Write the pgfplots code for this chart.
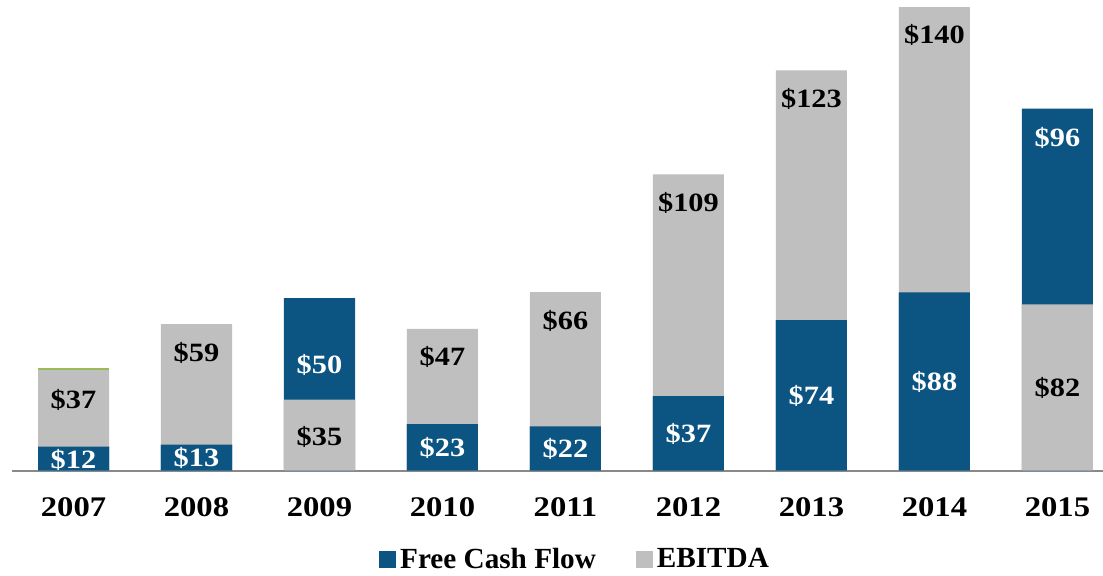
\documentclass[border=0pt]{standalone}
\usepackage{fontspec}
\setmainfont{Liberation Serif}
\newfontfamily\cam[FakeStretch=1.15]{Liberation Serif}
\usepackage{pgfplots}
\usepackage{pgfplotstable}
\pgfplotsset{compat=1.18}

\definecolor{fcf}{HTML}{0C5481}
\definecolor{ebitda}{HTML}{BFBFBF}
\definecolor{topline}{HTML}{9BBB59}
\definecolor{baseln}{HTML}{898989}

% bar heights as drawn (2014 EBITDA = 140), labels as printed
\pgfplotstableread{
x gray  blue  bluefront glab gy    blab by
0 30.3  7.2   7.2       37   21.2  12   3.2
1 44.2  7.8   7.8       59   35.4  13   3.8
2 21.4  52.1  nan       35   10.1  50   31.8
3 42.8  14.0  14.0      47   34.2  23   6.8
4 53.9  13.3  13.3      66   45.1  22   6.5
5 89.5  22.5  22.5      109  80.9  37   11.0
6 120.9 45.4  45.4      123  112.3 74   22.5
7 140.0 53.8  53.8      140  131.6 88   26.7
8 50.2  109.3 nan       82   24.9  96   100.5
}\bars

\begin{document}
\begin{tikzpicture}
\path[use as bounding box] (0,0) rectangle (551.5pt,287.5pt);
\begin{axis}[
    at={(6pt,52.25pt)}, anchor=south west,
    scale only axis,
    width=545.5pt, height=235pt,
    xmin=-0.5, xmax=8.37,
    ymin=0, ymax=142,
    axis x line*=bottom,
    axis y line=none,
    axis line style={draw=baseln, line width=1pt},
    xtick={0,...,8},
    xticklabels={2007,2008,2009,2010,2011,2012,2013,2014,2015},
    major tick length=0pt,
    xticklabel style={font=\cam\fontsize{14.2}{16}\selectfont\bfseries, yshift=-10pt},
    clip=false,
    legend style={at={(0.517,-0.19)}, anchor=center, draw=none, inner sep=1pt,
        legend columns=2, font=\fontsize{14.6}{16}\selectfont\bfseries,
        /tikz/every even column/.append style={column sep=18pt}},
    legend image code/.code={\fill[#1] (0pt,-4.25pt) rectangle (8.5pt,4.25pt);},
]
\addplot[ybar, bar width=35.5pt, bar shift=0pt, fill=topline, draw=none, forget plot]
    coordinates {(0,31.0)};
\addplot[ybar, bar width=35.5pt, bar shift=0pt, fill=fcf, draw=none]
    table[x=x, y=blue] {\bars};
\addlegendentry{Free Cash Flow}
\addplot[ybar, bar width=35.5pt, bar shift=0pt, fill=ebitda, draw=none]
    table[x=x, y=gray] {\bars};
\addlegendentry{EBITDA}
\addplot[ybar, bar width=35.5pt, bar shift=0pt, fill=fcf, draw=none, forget plot]
    table[x=x, y=bluefront] {\bars};
% value labels
\addplot[only marks, mark=none, forget plot,
    point meta=explicit symbolic,
    nodes near coords={\$\pgfplotspointmeta},
    every node near coord/.append style={anchor=center, text=black,
        font=\cam\fontsize{13.2}{15}\selectfont\bfseries}]
    table[x=x, y=gy, meta=glab] {\bars};
\addplot[only marks, mark=none, forget plot,
    point meta=explicit symbolic,
    nodes near coords={\$\pgfplotspointmeta},
    every node near coord/.append style={anchor=center, text=white,
        font=\cam\fontsize{13.2}{15}\selectfont\bfseries}]
    table[x=x, y=by, meta=blab] {\bars};
\end{axis}
\end{tikzpicture}
\end{document}
